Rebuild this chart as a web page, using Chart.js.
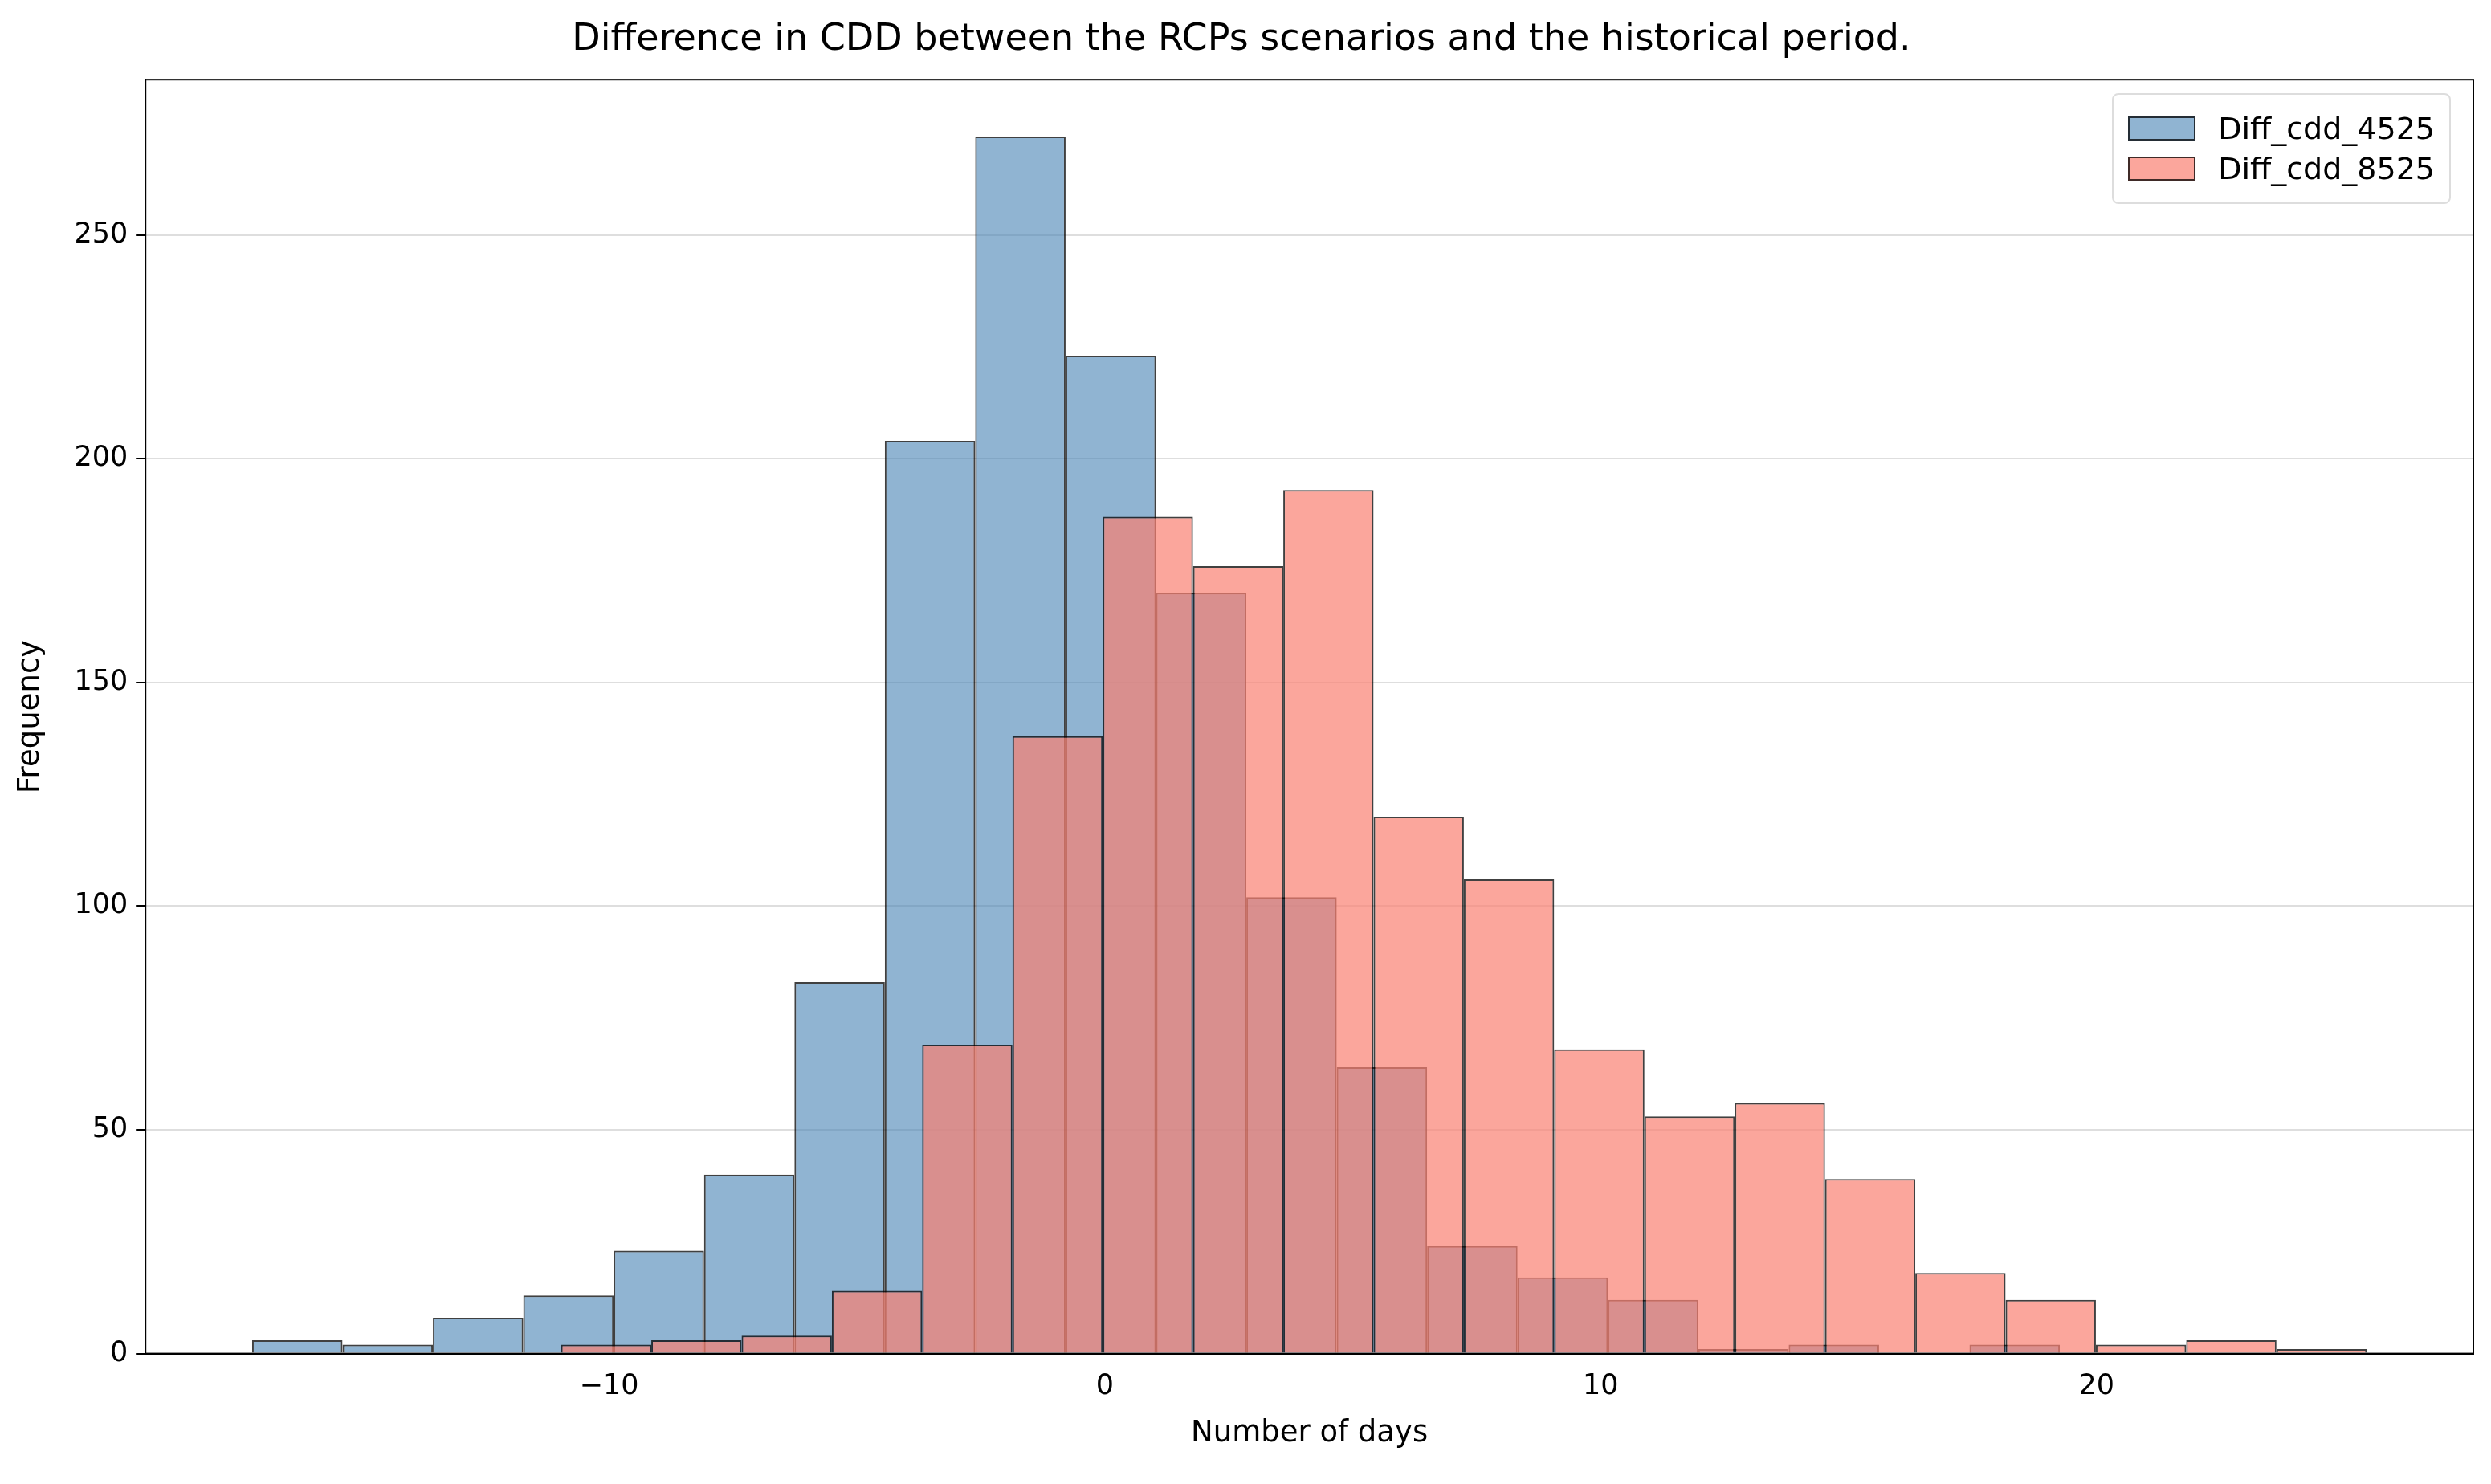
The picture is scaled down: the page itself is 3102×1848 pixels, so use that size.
<!DOCTYPE html>
<html><head><meta charset="utf-8">
<script src="https://cdn.jsdelivr.net/npm/chart.js@4.4.0/dist/chart.umd.min.js"></script>
<style>
html,body{margin:0;padding:0;background:#fff;}
#wrap{position:relative;width:3102px;height:1848px;}
#legend{position:absolute;right:50px;top:116px;border:2px solid #ddd;border-radius:8px;background:rgba(255,255,255,0.85);padding:14px 18px;font-family:"DejaVu Sans";font-size:38px;color:#000;}
.item{display:flex;align-items:center;margin:6px 0;}
.sw{width:84px;height:30px;margin-right:28px;border:2px solid rgba(0,0,0,0.75);box-sizing:border-box;}
</style></head><body>
<div id="wrap"><canvas id="c" width="3102" height="1848"></canvas>
<div id="legend">
<div class="item"><div class="sw" style="background:rgba(70,130,180,0.6)"></div>Diff_cdd_4525</div>
<div class="item"><div class="sw" style="background:rgba(250,128,114,0.7)"></div>Diff_cdd_8525</div>
</div></div>
<script>
const blueStart = -17.2, blueWidth = 1.823;
const blueCounts = [3,2,8,13,23,40,83,204,272,223,170,102,64,24,17,12,1,2,0,2];
const redStart = -10.97, redWidth = 1.821;
const redCounts = [2,3,4,14,69,138,187,176,193,120,106,68,53,56,39,18,12,2,3,1];
const xTicks = [-10,0,10,20];
const yTicks = [0,50,100,150,200,250];

const blueData = blueCounts.map((v,i)=>({x: blueStart + (i+0.5)*blueWidth, y: v}));
const redData = redCounts.map((v,i)=>({x: redStart + (i+0.5)*redWidth, y: v}));
const xs = [...blueData, ...redData].map(d=>d.x).sort((a,b)=>a-b);
let minGap = Infinity;
for (let i=1;i<xs.length;i++){const g=xs[i]-xs[i-1]; if(g>1e-9&&g<minGap)minGap=g;}

const font = "DejaVu Sans";
new Chart(document.getElementById('c'), {
  type: 'bar',
  data: { datasets: [
    { label:'Diff_cdd_4525', data: blueData, order:1, backgroundColor:'rgba(70,130,180,0.6)', borderColor:'rgba(0,0,0,0.75)', borderWidth:2,
      grouped:false, categoryPercentage:1, barPercentage: blueWidth/minGap },
    { label:'Diff_cdd_8525', data: redData, order:0, backgroundColor:'rgba(250,128,114,0.7)', borderColor:'rgba(0,0,0,0.75)', borderWidth:2,
      grouped:false, categoryPercentage:1, barPercentage: redWidth/minGap }
  ]},
  options: {
    responsive:false, animation:false,
    layout:{padding:{left:12,right:22,top:0,bottom:36}},
    plugins:{
      legend:{display:false}, tooltip:{enabled:false},
      title:{display:true, text:'Difference in CDD between the RCPs scenarios and the historical period.', color:'#000',
        font:{family:font,size:46,weight:'normal'}, padding:{top:22,bottom:22}}
    },
    scales:{
      x:{type:'linear', min:-19.35, max:27.6, offset:false,
        afterBuildTicks: a=>{a.ticks = xTicks.map(v=>({value:v}));},
        ticks:{color:'#000', font:{family:font,size:35}, padding:8, callback:v=>v<0?'\u2212'+Math.abs(v):v},
        grid:{display:false, drawTicks:true, tickLength:12, tickColor:'#000'},
        border:{color:'#000', width:2},
        title:{display:true, text:'Number of days', color:'#000', font:{family:font,size:37}, padding:{top:8}}},
      y:{min:0, max:284.7,
        afterBuildTicks: a=>{a.ticks = yTicks.map(v=>({value:v}));},
        ticks:{color:'#000', font:{family:font,size:35}, padding:10},
        grid:{color:'rgba(0,0,0,0.13)', lineWidth:2, tickLength:12, tickColor:'#000'},
        border:{color:'#000', width:2},
        title:{display:true, text:'Frequency', color:'#000', font:{family:font,size:37}, padding:{bottom:22}}}
    }
  },
  plugins:[{id:'frame', afterDraw(ch){const a=ch.chartArea,c=ch.ctx;c.save();c.strokeStyle='#000';c.lineWidth=2;c.strokeRect(a.left,a.top,a.right-a.left,a.bottom-a.top);c.restore();}}]
});
</script></body></html>
